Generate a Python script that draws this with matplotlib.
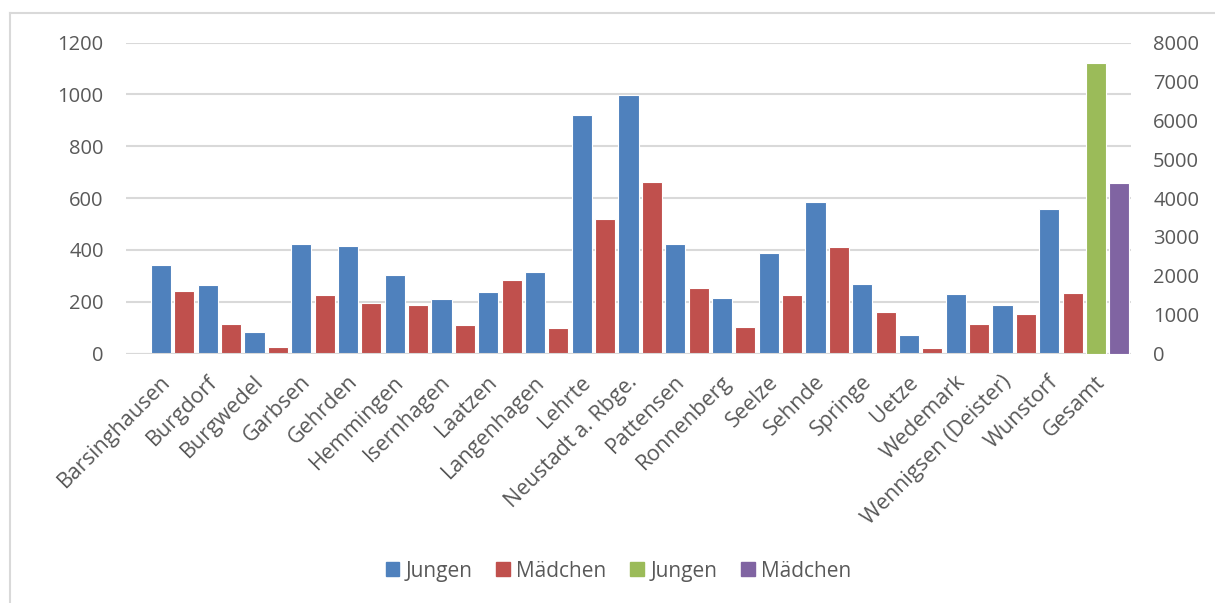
import matplotlib.pyplot as plt
import matplotlib.transforms as mtransforms
from matplotlib.lines import Line2D
from matplotlib.patches import Patch
import numpy as np

orte = ["Barsinghausen", "Burgdorf", "Burgwedel", "Garbsen", "Gehrden",
        "Hemmingen", "Isernhagen", "Laatzen", "Langenhagen", "Lehrte",
        "Neustadt a. Rbge.", "Pattensen", "Ronnenberg", "Seelze", "Sehnde",
        "Springe", "Uetze", "Wedemark", "Wennigsen (Deister)", "Wunstorf"]
jungen = [341, 266, 83, 422, 414, 301, 211, 239, 316, 922,
          997, 423, 213, 387, 586, 269, 71, 230, 189, 557]
maedchen = [241, 114, 24, 226, 193, 189, 109, 282, 98, 519,
            660, 254, 101, 225, 410, 159, 22, 114, 153, 235]
gesamt_label = "Gesamt"
gesamt_jungen = 7467
gesamt_maedchen = 4380

BLUE = "#4F81BD"
RED = "#C0504D"
GREEN = "#9BBB59"
PURPLE = "#8064A2"
GRID = "#D9D9D9"
TEXT = "#595959"

plt.rcParams['font.family'] = ['Open Sans', 'DejaVu Sans']
plt.rcParams['font.size'] = 14.5

fig = plt.figure(figsize=(12.15, 6.03), dpi=100)
ax = fig.add_axes([126 / 1215, 249.5 / 603, 1005 / 1215, 311 / 603])
ax2 = ax.twinx()

x = np.arange(len(orte))
w = 0.43
ax.bar(x - 0.25, jungen, w, color=BLUE, edgecolor="white", linewidth=0.8, zorder=3)
ax.bar(x + 0.25, maedchen, w, color=RED, edgecolor="white", linewidth=0.8, zorder=3)

xg = len(orte)
ax2.bar([xg - 0.25], [gesamt_jungen], w, color=GREEN, edgecolor="white", linewidth=0.8, zorder=3)
ax2.bar([xg + 0.25], [gesamt_maedchen], w, color=PURPLE, edgecolor="white", linewidth=0.8, zorder=3)

ax.set_xlim(-1.0, 20.5)
ax.set_ylim(0, 1200)
ax2.set_ylim(0, 8000)
ax.set_yticks(range(0, 1201, 200))
ax2.set_yticks(range(0, 8001, 1000))

ax.yaxis.grid(True, color=GRID, linewidth=1.5, zorder=0)
ax.set_axisbelow(True)
for a in (ax, ax2):
    for s in a.spines.values():
        s.set_visible(False)
ax.axhline(0, color=GRID, linewidth=1.5, zorder=4)

ax.tick_params(axis="y", length=0, pad=16, labelcolor=TEXT)
ax2.tick_params(axis="y", length=0, pad=16, labelcolor=TEXT)

ax.set_xticks(list(x) + [xg])
ax.set_xticklabels(orte + [gesamt_label], fontsize=15.5)
ax.tick_params(axis="x", length=0, pad=13, labelcolor=TEXT)
shift = mtransforms.ScaledTranslation(-13 / 100, 0, fig.dpi_scale_trans)
for lbl in ax.get_xticklabels():
    lbl.set_rotation(45)
    lbl.set_ha("right")
    lbl.set_va("top")
    lbl.set_rotation_mode("anchor")
    lbl.set_transform(lbl.get_transform() + shift)

handles = [Patch(color=BLUE), Patch(color=RED), Patch(color=GREEN), Patch(color=PURPLE)]
fig.legend(handles, ["Jungen", "Mädchen", "Jungen", "Mädchen"], ncol=4,
           loc="center", bbox_to_anchor=(0.509, 0.053), frameon=False,
           fontsize=15, handlelength=0.65, handleheight=0.65, handletextpad=0.3,
           columnspacing=1.15, labelcolor=TEXT)

# chart area border (only top and left edges are visible)
fig.add_artist(Line2D([10 / 1215, 1.0], [1 - 13 / 603] * 2, color=GRID, linewidth=1.5))
fig.add_artist(Line2D([10 / 1215] * 2, [0, 1 - 13 / 603], color=GRID, linewidth=1.5))

fig.savefig("out.png", dpi=100)
